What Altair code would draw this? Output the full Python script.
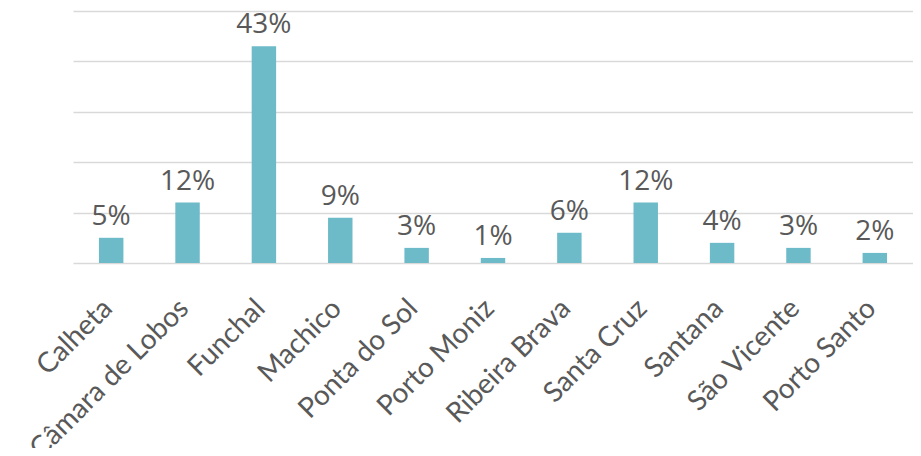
import altair as alt
import pandas as pd

categories = ["Calheta", "Câmara de Lobos", "Funchal", "Machico", "Ponta do Sol",
              "Porto Moniz", "Ribeira Brava", "Santa Cruz", "Santana", "São Vicente",
              "Porto Santo"]
values = [5, 12, 43, 9, 3, 1, 6, 12, 4, 3, 2]
labels = [f"{v}%" for v in values]

df = pd.DataFrame({"cat": categories, "val": values, "lab": labels})

x = alt.X("cat:N", sort=categories, title=None,
          scale=alt.Scale(paddingInner=0.68, paddingOuter=0.34),
          axis=alt.Axis(labelAngle=-45, labelAlign="right", labelBaseline="middle",
                        labelFont="Lato", labelFontSize=28, labelColor="#595959",
                        labelPadding=41, labelOffset=-3, labelLimit=0,
                        ticks=False, domain=False, grid=False, labelOverlap=False))
y = alt.Y("val:Q", title=None,
          scale=alt.Scale(domain=[0, 50], nice=False),
          axis=alt.Axis(values=[0, 10, 20, 30, 40, 50], labels=False, ticks=False,
                        domain=False, grid=True, gridColor="#D9D9D9", gridWidth=1.6))

bars = alt.Chart(df).mark_bar(color="#6DBAC8").encode(x=x, y=y)
text = alt.Chart(df).mark_text(baseline="alphabetic", dy=-13, font="Open Sans", fontSize=28,
                               color="#595959").encode(
    x=alt.X("cat:N", sort=categories), y="val:Q", text="lab:N")

chart = (bars + text).properties(
    width=840, height=252,
    autosize=alt.AutoSizeParams(type="none"),
    padding={"left": 65, "top": 3, "right": 0, "bottom": 185},
).configure_view(stroke=None)

chart.save("out.html", embed_options={"renderer": "svg", "actions": False})
